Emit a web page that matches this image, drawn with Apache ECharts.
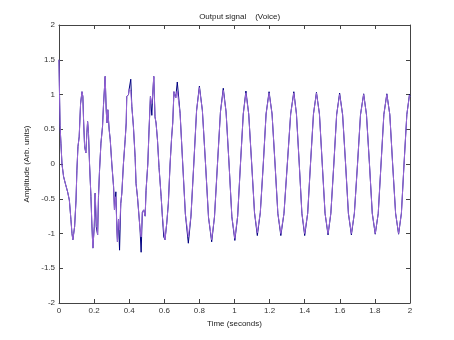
<!DOCTYPE html>
<html>
<head>
<meta charset="utf-8">
<script src="https://cdn.jsdelivr.net/npm/echarts@6/dist/echarts.min.js"></script>
<style>html,body{margin:0;padding:0;background:#fff}#c{width:454px;height:340px}</style>
</head>
<body>
<div id="c"></div>
<script>
// time samples (seconds)
var times = [
0.000,0.003,0.006,0.011,0.017,0.026,0.036,0.049,0.059,0.068,0.074,0.079,0.089,0.097,0.102,0.108,0.115,0.123,0.131,0.136,
0.140,0.146,0.153,0.159,0.163,0.168,0.174,0.182,0.187,0.193,0.201,0.206,0.212,0.220,0.225,0.231,0.239,0.248,0.254,0.263,
0.269,0.273,0.278,0.286,0.292,0.301,0.311,0.316,0.324,0.330,0.333,0.339,0.345,0.352,0.358,0.367,0.377,0.383,0.386,0.396,
0.400,0.409,0.415,0.424,0.434,0.439,0.447,0.453,0.462,0.468,0.475,0.483,0.491,0.496,0.506,0.513,0.521,0.529,0.534,0.540,
0.547,0.553,0.561,0.570,0.582,0.589,0.597,0.604,0.614,0.623,0.633,0.642,0.648,0.655,
0.665,0.674,0.690,0.705,0.720,0.737,0.752,0.768,0.784,0.800,0.817,0.835,0.852,0.870,0.886,0.903,0.920,0.936,0.952,0.969,
0.985,1.002,1.018,1.034,1.050,1.065,1.081,1.098,1.114,1.130,1.147,1.164,1.180,1.197,1.214,1.231,1.247,1.264,1.282,1.301,
1.320,1.338,1.353,1.369,1.384,1.400,1.417,1.433,1.450,1.467,1.484,1.500,1.516,1.533,1.549,1.566,1.582,1.599,1.616,1.633,
1.649,1.666,1.683,1.701,1.718,1.736,1.752,1.769,1.785,1.802,1.819,1.835,1.851,1.868,1.885,1.901,1.918,1.935,1.951,1.966,
1.982,1.997,2.000
];
// purple trace amplitude
var purpleAmp = [
1.50,1.00,0.55,0.30,0.00,-0.18,-0.28,-0.40,-0.52,-0.80,-1.00,-1.09,-0.90,-0.52,-0.09,0.25,0.39,0.87,1.04,0.97,
0.63,0.25,0.16,0.45,0.61,0.45,0.00,-0.47,-0.85,-1.21,-0.90,-0.42,-0.75,-1.02,-0.47,-0.09,0.30,0.54,0.87,1.26,
0.78,0.59,0.78,0.49,0.35,0.00,-0.33,-0.66,-0.47,-0.95,-1.12,-0.80,-0.95,-0.57,-0.42,0.00,0.35,0.59,0.97,1.00,
1.08,1.05,0.83,0.54,0.09,-0.28,-0.47,-0.66,-0.95,-1.05,-0.69,-0.66,-0.75,-0.38,0.00,0.49,0.97,0.87,1.00,1.26,
0.68,0.59,0.35,-0.05,-0.47,-0.75,-0.95,-1.09,-0.85,-0.57,0.00,0.39,0.59,1.04,
0.95,1.05,0.73,0.00,-0.72,-1.05,-0.75,0.00,0.77,1.10,0.77,0.00,-0.77,-1.09,-0.76,0.00,0.75,1.06,0.75,0.00,
-0.76,-1.07,-0.75,0.00,0.72,1.02,0.72,0.00,-0.70,-0.99,-0.70,0.00,0.72,1.02,0.72,0.00,-0.71,-1.00,-0.71,0.00,
0.72,1.02,0.72,0.00,-0.71,-1.00,-0.71,0.00,0.72,1.02,0.72,0.00,-0.71,-1.00,-0.71,0.00,0.71,1.00,0.71,0.00,
-0.71,-1.00,-0.71,0.00,0.71,1.00,0.71,0.00,-0.71,-1.00,-0.71,0.00,0.71,1.00,0.71,0.00,-0.71,-1.00,-0.71,0.00,
0.71,0.99,0.97
];
// navy trace amplitude
var navyAmp = [
1.50,1.00,0.55,0.30,0.00,-0.18,-0.28,-0.40,-0.52,-0.80,-1.00,-1.09,-0.90,-0.52,-0.09,0.25,0.39,0.87,1.04,0.97,
0.63,0.25,0.16,0.45,0.61,0.45,0.00,-0.47,-0.85,-1.21,-0.90,-0.42,-0.90,-1.02,-0.47,-0.09,0.30,0.54,0.87,1.26,
0.78,0.59,0.78,0.49,0.35,0.00,-0.33,-0.66,-0.40,-0.95,-1.12,-0.80,-1.24,-0.57,-0.42,0.00,0.35,0.59,0.97,1.00,
1.08,1.22,0.83,0.54,0.09,-0.28,-0.47,-0.66,-0.95,-1.27,-0.69,-0.66,-0.75,-0.38,0.00,0.49,0.97,0.70,1.00,1.26,
0.68,0.59,0.35,-0.05,-0.47,-0.75,-1.05,-1.09,-0.85,-0.57,0.00,0.39,0.59,1.04,
0.95,1.18,0.73,0.00,-0.72,-1.14,-0.75,0.00,0.77,1.12,0.77,0.00,-0.77,-1.12,-0.76,0.00,0.75,1.09,0.75,0.00,
-0.76,-1.10,-0.75,0.00,0.72,1.05,0.72,0.00,-0.70,-1.03,-0.70,0.00,0.72,1.04,0.72,0.00,-0.71,-1.03,-0.71,0.00,
0.72,1.04,0.72,0.00,-0.71,-1.03,-0.71,0.00,0.72,1.03,0.72,0.00,-0.71,-1.02,-0.71,0.00,0.71,1.02,0.71,0.00,
-0.71,-1.02,-0.71,0.00,0.71,1.01,0.71,0.00,-0.71,-1.01,-0.71,0.00,0.71,1.01,0.71,0.00,-0.71,-1.01,-0.71,0.00,
0.71,1.00,0.97
];
var xTicks = [0,0.2,0.4,0.6,0.8,1,1.2,1.4,1.6,1.8,2];
var yTicks = [-2,-1.5,-1,-0.5,0,0.5,1,1.5,2];

function pairs(vals){ return times.map(function(t,i){ return [t, vals[i]]; }); }

var axisCol = '#444';
var fontFam = 'Liberation Sans, Arial, sans-serif';
function baseX(pos, labels){
  return {type:'value', position:pos, min:xTicks[0], max:xTicks[xTicks.length-1], interval:0.2,
    axisLine:{show:true, onZero:false, lineStyle:{color:axisCol, width:1}},
    axisTick:{show:true, inside:true, length:4, lineStyle:{color:axisCol}},
    axisLabel:{show:labels, color:'#333', fontSize:8, fontFamily:fontFam, margin:4},
    splitLine:{show:false}};
}
function baseY(pos, labels){
  return {type:'value', position:pos, min:yTicks[0], max:yTicks[yTicks.length-1], interval:0.5,
    axisLine:{show:true, onZero:false, lineStyle:{color:axisCol, width:1}},
    axisTick:{show:true, inside:true, length:4, lineStyle:{color:axisCol}},
    axisLabel:{show:labels, color:'#333', fontSize:8, fontFamily:fontFam, margin:4},
    splitLine:{show:false}};
}
var x0 = baseX('bottom', true);
x0.name = 'Time (seconds)'; x0.nameLocation = 'middle'; x0.nameGap = 12;
x0.nameTextStyle = {color:'#222', fontSize:8, fontFamily:fontFam};
var x1 = baseX('top', false);
var y0 = baseY('left', true);
y0.name = 'Amplitude (Arb. units)'; y0.nameLocation = 'middle'; y0.nameGap = 17;
y0.nameTextStyle = {color:'#222', fontSize:8, fontFamily:fontFam};
var y1 = baseY('right', false);

var chart = echarts.init(document.getElementById('c'), null, {renderer:'canvas'});
chart.setOption({
  animation:false,
  backgroundColor:'#fff',
  title:{text:'Output signal    (Voice)', left:234.6, top:8, textAlign:'center',
    textStyle:{fontSize:8, fontWeight:'normal', color:'#222', fontFamily:fontFam}},
  grid:{left:59, right:44, top:25, bottom:37, containLabel:false, outerBoundsMode:'none'},
  xAxis:[x0, x1],
  yAxis:[y0, y1],
  series:[
    {type:'line', xAxisIndex:0, yAxisIndex:0, data:pairs(navyAmp), showSymbol:false, symbol:'none',
      lineStyle:{color:'#000080', width:1}, itemStyle:{color:'#000080'}},
    {type:'line', xAxisIndex:0, yAxisIndex:0, data:pairs(purpleAmp), showSymbol:false, symbol:'none',
      lineStyle:{color:'#9966d6', width:1}, itemStyle:{color:'#9966d6'}}
  ]
});
</script>
</body>
</html>
